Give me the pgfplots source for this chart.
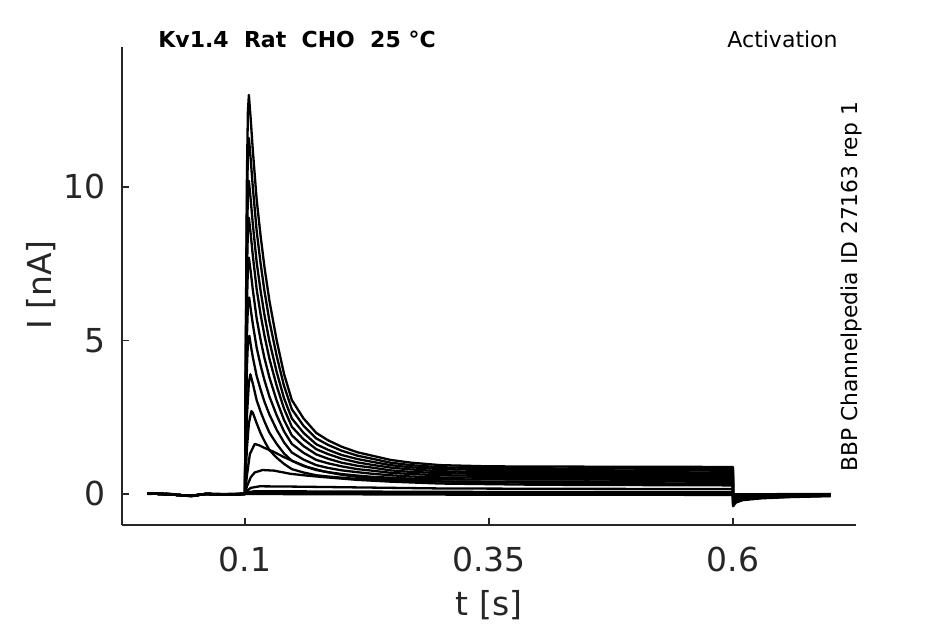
\documentclass[border=0pt]{standalone}
\usepackage{fontspec}
\setmainfont{DejaVu Sans}
\usepackage{pgfplots}
\pgfplotsset{compat=1.18}
\definecolor{dg}{HTML}{262626}
\begin{document}
\begin{tikzpicture}
\begin{axis}[
  name=ax,
  width=367pt, height=239pt, scale only axis,
  xmin=-0.026, xmax=0.726, ymin=-1.01, ymax=14.56,
  axis lines*=left,
  axis line style={draw=dg, line width=0.6pt},
  xtick={0.1,0.35,0.6}, xticklabels={0.1,0.35,0.6},
  ytick={0,5,10}, yticklabels={0,5,10},
  tick align=inside, major tick length=3.5pt,
  tick style={dg, line width=0.6pt},
  /pgf/number format/assume math mode=true,
  ticklabel style={font=\fontsize{16.5}{18}\selectfont, text=dg, inner sep=0pt},
  xticklabel style={anchor=base, yshift=-23.5pt},
  yticklabel style={anchor=east, xshift=-8pt},
  clip=false,
  trace/.style={black, line width=1.15pt, line join=round},
]
% baselines
\addplot[trace] coordinates {(0,0.02)(0.02,-0.01)(0.045,-0.06)(0.06,0.0)(0.08,-0.02)(0.1,0.0)(0.3,-0.02)(0.6,-0.03)(0.6001,-0.03)(0.7,-0.02)};
\addplot[trace] coordinates {(0,0.0)(0.02,0.02)(0.045,-0.08)(0.06,0.01)(0.08,0.0)(0.1,0.02)(0.3,0.02)(0.6,0.01)(0.6001,-0.01)(0.7,0.0)};
% trace 13
\addplot[trace] coordinates {(0,0.02)(0.02,-0.01)(0.045,-0.06)(0.06,0.0)(0.08,-0.02)(0.1,0.0)(0.104,0.06)(0.11,0.09)(0.2,0.08)(0.3,0.07)(0.45,0.06)(0.6,0.06)(0.6001,-0.03)(0.61,-0.02)(0.7,-0.01)};
% trace 12
\addplot[trace] coordinates {(0,0.02)(0.02,-0.01)(0.045,-0.06)(0.06,0.0)(0.08,-0.02)(0.1,0.0)(0.102,0.1)(0.106,0.2)(0.115,0.25)(0.15,0.24)(0.2,0.22)(0.25,0.2)(0.3,0.18)(0.4,0.17)(0.6,0.16)(0.6001,-0.05)(0.61,-0.03)(0.66,-0.02)(0.7,-0.01)};
% trace 11
\addplot[trace] coordinates {(0,0.02)(0.02,-0.01)(0.045,-0.06)(0.06,0.0)(0.08,-0.02)(0.1,0.0)(0.102,0.25)(0.106,0.55)(0.11,0.7)(0.118,0.78)(0.13,0.76)(0.146,0.66)(0.16,0.61)(0.18,0.55)(0.215,0.46)(0.25,0.40)(0.3,0.34)(0.4,0.30)(0.5,0.29)(0.6,0.28)(0.6001,-0.06)(0.61,-0.04)(0.66,-0.02)(0.7,-0.01)};
% trace 10
\addplot[trace] coordinates {(0,0.02)(0.02,-0.01)(0.045,-0.06)(0.06,0.0)(0.08,-0.02)(0.1,0.0)(0.102,0.6)(0.105,1.3)(0.110,1.63)(0.115,1.58)(0.12,1.50)(0.129,1.38)(0.14,1.2)(0.15,1.06)(0.163,0.89)(0.18,0.74)(0.2,0.62)(0.22,0.54)(0.25,0.47)(0.3,0.41)(0.35,0.38)(0.45,0.35)(0.6,0.34)(0.6001,-0.07)(0.603,-0.05)(0.61,-0.04)(0.63,-0.03)(0.7,-0.01)};
% trace 9
\addplot[trace] coordinates {(0,0.02)(0.02,-0.01)(0.045,-0.06)(0.06,0.0)(0.08,-0.02)(0.1,0.0)(0.101,0.81)(0.102,1.49)(0.104,2.3)(0.1065,2.7)(0.108,2.65)(0.112,2.3)(0.116,1.98)(0.12,1.72)(0.125,1.43)(0.1325,1.18)(0.14,0.98)(0.148,0.81)(0.16,0.70)(0.173,0.61)(0.185,0.57)(0.199,0.53)(0.215,0.49)(0.23,0.47)(0.249,0.44)(0.27,0.43)(0.3,0.41)(0.35,0.40)(0.45,0.41)(0.6,0.40)(0.6001,-0.08)(0.603,-0.06)(0.61,-0.04)(0.63,-0.03)(0.66,-0.02)(0.7,-0.01)};
% trace 8
\addplot[trace] coordinates {(0,0.02)(0.02,-0.01)(0.045,-0.06)(0.06,0.0)(0.08,-0.02)(0.1,0.0)(0.101,1.37)(0.102,2.54)(0.104,3.63)(0.1055,3.9)(0.108,3.6)(0.112,3.05)(0.116,2.68)(0.12,2.36)(0.125,2.00)(0.1325,1.63)(0.14,1.32)(0.148,1.08)(0.16,0.91)(0.173,0.78)(0.185,0.71)(0.199,0.65)(0.215,0.60)(0.23,0.56)(0.249,0.53)(0.27,0.50)(0.3,0.48)(0.35,0.47)(0.45,0.47)(0.6,0.46)(0.6001,-0.12)(0.603,-0.08)(0.61,-0.06)(0.63,-0.04)(0.66,-0.03)(0.7,-0.02)};
% trace 7
\addplot[trace] coordinates {(0,0.02)(0.02,-0.01)(0.045,-0.06)(0.06,0.0)(0.08,-0.02)(0.1,0.0)(0.101,2.32)(0.102,4.12)(0.103,4.94)(0.1045,5.15)(0.106,4.83)(0.108,4.46)(0.112,3.84)(0.116,3.40)(0.12,3.00)(0.125,2.59)(0.1325,2.09)(0.14,1.68)(0.148,1.35)(0.16,1.12)(0.173,0.94)(0.185,0.85)(0.199,0.77)(0.215,0.71)(0.23,0.66)(0.249,0.61)(0.27,0.57)(0.3,0.54)(0.35,0.53)(0.45,0.53)(0.6,0.52)(0.6001,-0.16)(0.603,-0.11)(0.61,-0.08)(0.63,-0.06)(0.66,-0.04)(0.7,-0.03)};
% trace 6
\addplot[trace] coordinates {(0,0.02)(0.02,-0.01)(0.045,-0.06)(0.06,0.0)(0.08,-0.02)(0.1,0.0)(0.101,2.88)(0.102,5.12)(0.103,6.14)(0.1043,6.4)(0.106,5.99)(0.108,5.54)(0.112,4.76)(0.116,4.19)(0.12,3.70)(0.125,3.18)(0.1325,2.56)(0.14,2.04)(0.148,1.63)(0.16,1.34)(0.173,1.11)(0.185,1.00)(0.199,0.90)(0.215,0.81)(0.23,0.76)(0.249,0.69)(0.27,0.65)(0.3,0.61)(0.35,0.59)(0.45,0.59)(0.6,0.58)(0.6001,-0.20)(0.603,-0.14)(0.61,-0.10)(0.63,-0.07)(0.66,-0.05)(0.7,-0.03)};
% trace 5
\addplot[trace] coordinates {(0,0.02)(0.02,-0.01)(0.045,-0.06)(0.06,0.0)(0.08,-0.02)(0.1,0.0)(0.101,3.47)(0.102,6.16)(0.103,7.39)(0.104,7.7)(0.106,7.21)(0.108,6.66)(0.112,5.71)(0.116,5.02)(0.12,4.42)(0.125,3.80)(0.1325,3.04)(0.14,2.41)(0.148,1.91)(0.16,1.56)(0.173,1.29)(0.185,1.15)(0.199,1.02)(0.215,0.92)(0.23,0.86)(0.249,0.77)(0.27,0.72)(0.3,0.68)(0.35,0.65)(0.45,0.65)(0.6,0.64)(0.6001,-0.24)(0.603,-0.17)(0.61,-0.12)(0.63,-0.08)(0.66,-0.06)(0.7,-0.04)};
% trace 4
\addplot[trace] coordinates {(0,0.02)(0.02,-0.01)(0.045,-0.06)(0.06,0.0)(0.08,-0.02)(0.1,0.0)(0.101,4.05)(0.102,7.2)(0.103,8.64)(0.104,9.0)(0.106,8.42)(0.108,7.77)(0.112,6.66)(0.116,5.85)(0.12,5.15)(0.125,4.41)(0.1325,3.52)(0.14,2.78)(0.148,2.19)(0.16,1.78)(0.173,1.46)(0.185,1.30)(0.199,1.15)(0.215,1.03)(0.23,0.95)(0.249,0.86)(0.27,0.80)(0.3,0.74)(0.35,0.71)(0.45,0.71)(0.6,0.70)(0.6001,-0.28)(0.603,-0.19)(0.61,-0.14)(0.63,-0.10)(0.66,-0.07)(0.7,-0.05)};
% trace 3
\addplot[trace] coordinates {(0,0.02)(0.02,-0.01)(0.045,-0.06)(0.06,0.0)(0.08,-0.02)(0.1,0.0)(0.101,4.59)(0.102,8.16)(0.103,9.79)(0.104,10.2)(0.106,9.54)(0.108,8.80)(0.112,7.54)(0.116,6.62)(0.12,5.82)(0.125,4.98)(0.1325,3.97)(0.14,3.12)(0.148,2.46)(0.16,1.99)(0.173,1.62)(0.185,1.44)(0.199,1.27)(0.215,1.14)(0.23,1.05)(0.249,0.94)(0.27,0.87)(0.3,0.81)(0.35,0.78)(0.45,0.77)(0.6,0.76)(0.6001,-0.31)(0.603,-0.22)(0.61,-0.16)(0.63,-0.11)(0.66,-0.08)(0.7,-0.05)};
% trace 2
\addplot[trace] coordinates {(0,0.02)(0.02,-0.01)(0.045,-0.06)(0.06,0.0)(0.08,-0.02)(0.1,0.0)(0.101,5.22)(0.102,9.28)(0.103,11.14)(0.104,11.6)(0.106,10.85)(0.108,10.00)(0.112,8.56)(0.116,7.51)(0.12,6.60)(0.125,5.64)(0.1325,4.49)(0.14,3.52)(0.148,2.76)(0.16,2.22)(0.173,1.81)(0.185,1.60)(0.199,1.41)(0.215,1.25)(0.23,1.15)(0.249,1.02)(0.27,0.94)(0.3,0.87)(0.35,0.84)(0.45,0.83)(0.6,0.82)(0.6001,-0.36)(0.603,-0.25)(0.61,-0.18)(0.63,-0.12)(0.66,-0.09)(0.7,-0.06)};
% trace 1
\addplot[trace] coordinates {(0,0.02)(0.02,-0.01)(0.045,-0.06)(0.06,0.0)(0.08,-0.02)(0.1,0.0)(0.101,5.85)(0.102,10.4)(0.103,12.48)(0.104,13.0)(0.106,12.15)(0.108,11.21)(0.112,9.58)(0.116,8.41)(0.12,7.38)(0.125,6.30)(0.1325,5.00)(0.14,3.91)(0.148,3.06)(0.16,2.46)(0.173,1.99)(0.185,1.75)(0.199,1.54)(0.215,1.36)(0.23,1.25)(0.249,1.11)(0.27,1.02)(0.3,0.94)(0.35,0.90)(0.45,0.89)(0.6,0.88)(0.6001,-0.40)(0.603,-0.28)(0.61,-0.20)(0.63,-0.14)(0.66,-0.10)(0.7,-0.07)};
% texts
\node[anchor=base west, inner sep=0pt, font=\fontsize{11}{13}\selectfont\bfseries, text=black] at (axis description cs:0.049,0.998) {Kv1.4\ \ Rat\ \ CHO\ \ 25 °C};
\node[anchor=base east, inner sep=0pt, font=\fontsize{11}{13}\selectfont, text=black] at (axis description cs:0.9755,0.998) {Activation};
\node[anchor=base, rotate=90, inner sep=0pt, font=\fontsize{10.9}{12}\selectfont, text=black] at (axis description cs:1.0027,0.498) {BBP Channelpedia ID 27163 rep 1};
\node[anchor=base, rotate=90, inner sep=0pt, font=\fontsize{16.5}{18}\selectfont, text=dg] at (axis description cs:-0.0954,0.502) {I [nA]};
\node[anchor=base, inner sep=0pt, font=\fontsize{16.5}{18}\selectfont, text=dg] at (axis description cs:0.5,-0.1904) {t [s]};
\end{axis}
\pgfresetboundingbox
\path[use as bounding box] ([xshift=-61pt,yshift=-49.5pt]ax.south west) rectangle ([xshift=44.5pt,yshift=23.5pt]ax.north east);
\end{tikzpicture}
\end{document}
